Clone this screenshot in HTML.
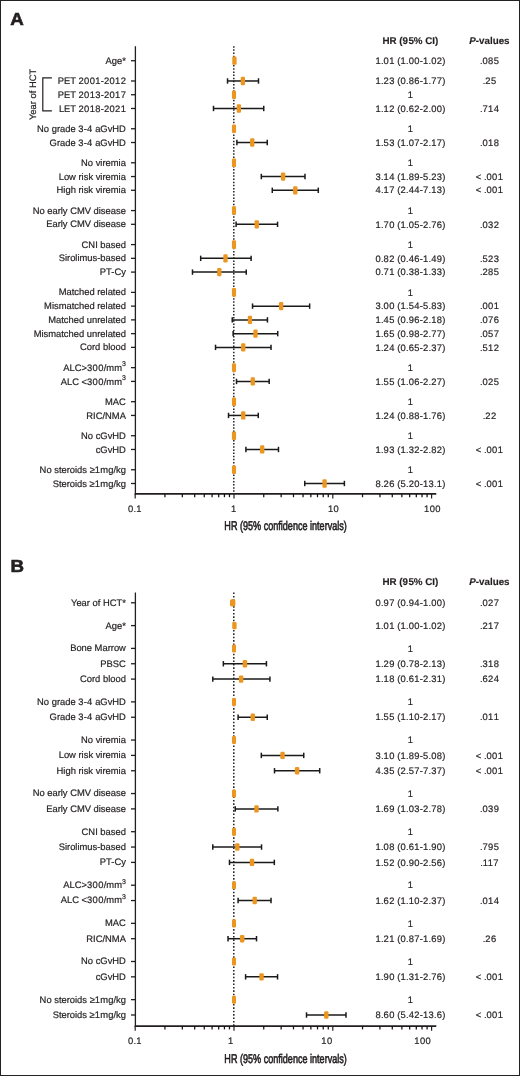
<!DOCTYPE html>
<html><head><meta charset="utf-8"><title>Forest plot</title>
<style>
html,body{margin:0;padding:0;background:#fff;}
#wrap{position:relative;width:520px;height:1076px;box-sizing:border-box;border:1px solid #222;overflow:hidden;background:#fff;}
svg{position:absolute;left:-1px;top:-1px;will-change:transform;}
text{font-family:"Liberation Sans", sans-serif;fill:#231f20;text-rendering:geometricPrecision;}
.lab{font-size:9.4px;stroke:#231f20;stroke-width:0.2px;}
.val{font-size:9.4px;stroke:#231f20;stroke-width:0.2px;}
.hdr{font-size:9.8px;font-weight:bold;stroke:#231f20;stroke-width:0.15px;}
.big{font-size:17.5px;font-weight:bold;stroke:#231f20;stroke-width:0.6px;}
.title{font-size:12.6px;stroke:#231f20;stroke-width:0.6px;}
</style></head>
<body><div id="wrap">
<svg width="520" height="1076" viewBox="0 0 520 1076">
<text transform="translate(10.2 25.0) scale(1.07 1)" class="big">A</text>
<text x="410.4" y="43.9" text-anchor="middle" class="hdr">HR (<tspan letter-spacing="0.36">9</tspan>5% CI)</text>
<text x="489.4" y="43.9" text-anchor="middle" class="hdr"><tspan font-style="italic">P</tspan>-values</text>
<line x1="233.8" y1="46.2" x2="233.8" y2="493.9" stroke="#111" stroke-width="1.4" stroke-dasharray="1.5 1.65"/>
<line x1="135.4" y1="46.2" x2="135.4" y2="494.75" stroke="#231f20" stroke-width="1.3"/>
<line x1="134.75" y1="493.9" x2="436.3" y2="493.9" stroke="#231f20" stroke-width="1.7"/>
<line x1="135.2" y1="493.9" x2="135.2" y2="498.6" stroke="#231f20" stroke-width="1.2"/>
<line x1="164.94" y1="493.9" x2="164.94" y2="497.2" stroke="#111" stroke-width="1.25"/>
<line x1="182.34" y1="493.9" x2="182.34" y2="497.2" stroke="#111" stroke-width="1.25"/>
<line x1="194.68" y1="493.9" x2="194.68" y2="497.2" stroke="#111" stroke-width="1.25"/>
<line x1="204.26" y1="493.9" x2="204.26" y2="497.2" stroke="#111" stroke-width="1.25"/>
<line x1="212.08" y1="493.9" x2="212.08" y2="497.2" stroke="#111" stroke-width="1.25"/>
<line x1="218.7" y1="493.9" x2="218.7" y2="497.2" stroke="#111" stroke-width="1.25"/>
<line x1="224.43" y1="493.9" x2="224.43" y2="497.2" stroke="#111" stroke-width="1.25"/>
<line x1="229.48" y1="493.9" x2="229.48" y2="497.2" stroke="#111" stroke-width="1.25"/>
<line x1="234" y1="493.9" x2="234" y2="498.6" stroke="#231f20" stroke-width="1.2"/>
<line x1="263.74" y1="493.9" x2="263.74" y2="497.2" stroke="#111" stroke-width="1.25"/>
<line x1="281.14" y1="493.9" x2="281.14" y2="497.2" stroke="#111" stroke-width="1.25"/>
<line x1="293.48" y1="493.9" x2="293.48" y2="497.2" stroke="#111" stroke-width="1.25"/>
<line x1="303.06" y1="493.9" x2="303.06" y2="497.2" stroke="#111" stroke-width="1.25"/>
<line x1="310.88" y1="493.9" x2="310.88" y2="497.2" stroke="#111" stroke-width="1.25"/>
<line x1="317.5" y1="493.9" x2="317.5" y2="497.2" stroke="#111" stroke-width="1.25"/>
<line x1="323.23" y1="493.9" x2="323.23" y2="497.2" stroke="#111" stroke-width="1.25"/>
<line x1="328.28" y1="493.9" x2="328.28" y2="497.2" stroke="#111" stroke-width="1.25"/>
<line x1="332.8" y1="493.9" x2="332.8" y2="498.6" stroke="#231f20" stroke-width="1.2"/>
<line x1="362.54" y1="493.9" x2="362.54" y2="497.2" stroke="#111" stroke-width="1.25"/>
<line x1="379.94" y1="493.9" x2="379.94" y2="497.2" stroke="#111" stroke-width="1.25"/>
<line x1="392.28" y1="493.9" x2="392.28" y2="497.2" stroke="#111" stroke-width="1.25"/>
<line x1="401.86" y1="493.9" x2="401.86" y2="497.2" stroke="#111" stroke-width="1.25"/>
<line x1="409.68" y1="493.9" x2="409.68" y2="497.2" stroke="#111" stroke-width="1.25"/>
<line x1="416.3" y1="493.9" x2="416.3" y2="497.2" stroke="#111" stroke-width="1.25"/>
<line x1="422.03" y1="493.9" x2="422.03" y2="497.2" stroke="#111" stroke-width="1.25"/>
<line x1="427.08" y1="493.9" x2="427.08" y2="497.2" stroke="#111" stroke-width="1.25"/>
<line x1="431.6" y1="493.9" x2="431.6" y2="498.6" stroke="#231f20" stroke-width="1.2"/>
<text x="134.7" y="511.8" text-anchor="middle" class="val"><tspan letter-spacing="0.36">0</tspan>.1</text>
<text x="233.5" y="511.8" text-anchor="middle" class="val">1</text>
<text x="333.4" y="511.8" text-anchor="middle" class="val"><tspan letter-spacing="0.36">1</tspan>0</text>
<text x="432.3" y="511.8" text-anchor="middle" class="val"><tspan letter-spacing="0.36">10</tspan>0</text>
<text transform="translate(285.6 529.8) scale(0.72 1)" text-anchor="middle" class="title">HR (95% confidence intervals)</text>
<line x1="131" y1="60.7" x2="135.4" y2="60.7" stroke="#231f20" stroke-width="1.3"/>
<text x="125.9" y="63.8" text-anchor="end" class="lab">Age*</text>
<text x="410.4" y="63.9" text-anchor="middle" class="val"><tspan letter-spacing="0.36">1</tspan>.<tspan letter-spacing="0.36">01</tspan> (<tspan letter-spacing="0.36">1</tspan>.<tspan letter-spacing="0.36">00</tspan>-<tspan letter-spacing="0.36">1</tspan>.<tspan letter-spacing="0.36">02</tspan>)</text>
<text x="489.4" y="63.9" text-anchor="middle" class="val">.<tspan letter-spacing="0.36">08</tspan>5</text>
<line x1="234" y1="60.7" x2="234.85" y2="60.7" stroke="#1a1a1a" stroke-width="1.5"/>
<line x1="234" y1="58" x2="234" y2="63.4" stroke="#1a1a1a" stroke-width="1.5"/>
<line x1="234.85" y1="58" x2="234.85" y2="63.4" stroke="#1a1a1a" stroke-width="1.5"/>
<rect x="232.28" y="56.55" width="4.3" height="8.3" rx="1.2" fill="#EC9620"/>
<line x1="131" y1="80.98" x2="135.4" y2="80.98" stroke="#231f20" stroke-width="1.3"/>
<text x="125.9" y="84.08" text-anchor="end" class="lab">PET <tspan letter-spacing="0.36">2001</tspan>-<tspan letter-spacing="0.36">201</tspan>2</text>
<text x="410.4" y="84.18" text-anchor="middle" class="val"><tspan letter-spacing="0.36">1</tspan>.<tspan letter-spacing="0.36">23</tspan> (<tspan letter-spacing="0.36">0</tspan>.<tspan letter-spacing="0.36">86</tspan>-<tspan letter-spacing="0.36">1</tspan>.<tspan letter-spacing="0.36">77</tspan>)</text>
<text x="489.4" y="84.18" text-anchor="middle" class="val">.<tspan letter-spacing="0.36">2</tspan>5</text>
<line x1="227.53" y1="80.98" x2="258.5" y2="80.98" stroke="#1a1a1a" stroke-width="1.5"/>
<line x1="227.53" y1="78.28" x2="227.53" y2="83.68" stroke="#1a1a1a" stroke-width="1.5"/>
<line x1="258.5" y1="78.28" x2="258.5" y2="83.68" stroke="#1a1a1a" stroke-width="1.5"/>
<rect x="240.73" y="76.83" width="4.3" height="8.3" rx="1.2" fill="#EC9620"/>
<line x1="131" y1="94.73" x2="135.4" y2="94.73" stroke="#231f20" stroke-width="1.3"/>
<text x="125.9" y="97.83" text-anchor="end" class="lab">PET <tspan letter-spacing="0.36">2013</tspan>-<tspan letter-spacing="0.36">201</tspan>7</text>
<text x="410.4" y="97.93" text-anchor="middle" class="val">1</text>
<rect x="231.95" y="90.43" width="4.1" height="8.6" rx="1.2" fill="#EC9620"/>
<line x1="131" y1="108.48" x2="135.4" y2="108.48" stroke="#231f20" stroke-width="1.3"/>
<text x="125.9" y="111.58" text-anchor="end" class="lab">LET <tspan letter-spacing="0.36">2018</tspan>-<tspan letter-spacing="0.36">202</tspan>1</text>
<text x="410.4" y="111.68" text-anchor="middle" class="val"><tspan letter-spacing="0.36">1</tspan>.<tspan letter-spacing="0.36">12</tspan> (<tspan letter-spacing="0.36">0</tspan>.<tspan letter-spacing="0.36">62</tspan>-<tspan letter-spacing="0.36">2</tspan>.<tspan letter-spacing="0.36">00</tspan>)</text>
<text x="489.4" y="111.68" text-anchor="middle" class="val">.<tspan letter-spacing="0.36">71</tspan>4</text>
<line x1="213.49" y1="108.48" x2="263.74" y2="108.48" stroke="#1a1a1a" stroke-width="1.5"/>
<line x1="213.49" y1="105.78" x2="213.49" y2="111.18" stroke="#1a1a1a" stroke-width="1.5"/>
<line x1="263.74" y1="105.78" x2="263.74" y2="111.18" stroke="#1a1a1a" stroke-width="1.5"/>
<rect x="236.71" y="104.33" width="4.3" height="8.3" rx="1.2" fill="#EC9620"/>
<line x1="131" y1="128.76" x2="135.4" y2="128.76" stroke="#231f20" stroke-width="1.3"/>
<text x="125.9" y="131.86" text-anchor="end" class="lab">No grade <tspan letter-spacing="0.36">3</tspan>-<tspan letter-spacing="0.36">4</tspan> aGvHD</text>
<text x="410.4" y="131.96" text-anchor="middle" class="val">1</text>
<rect x="231.95" y="124.46" width="4.1" height="8.6" rx="1.2" fill="#EC9620"/>
<line x1="131" y1="142.51" x2="135.4" y2="142.51" stroke="#231f20" stroke-width="1.3"/>
<text x="125.9" y="145.61" text-anchor="end" class="lab">Grade <tspan letter-spacing="0.36">3</tspan>-<tspan letter-spacing="0.36">4</tspan> aGvHD</text>
<text x="410.4" y="145.71" text-anchor="middle" class="val"><tspan letter-spacing="0.36">1</tspan>.<tspan letter-spacing="0.36">53</tspan> (<tspan letter-spacing="0.36">1</tspan>.<tspan letter-spacing="0.36">07</tspan>-<tspan letter-spacing="0.36">2</tspan>.<tspan letter-spacing="0.36">17</tspan>)</text>
<text x="489.4" y="145.71" text-anchor="middle" class="val">.<tspan letter-spacing="0.36">01</tspan>8</text>
<line x1="236.9" y1="142.51" x2="267.24" y2="142.51" stroke="#1a1a1a" stroke-width="1.5"/>
<line x1="236.9" y1="139.81" x2="236.9" y2="145.21" stroke="#1a1a1a" stroke-width="1.5"/>
<line x1="267.24" y1="139.81" x2="267.24" y2="145.21" stroke="#1a1a1a" stroke-width="1.5"/>
<rect x="250.1" y="138.36" width="4.3" height="8.3" rx="1.2" fill="#EC9620"/>
<line x1="131" y1="162.79" x2="135.4" y2="162.79" stroke="#231f20" stroke-width="1.3"/>
<text x="125.9" y="165.89" text-anchor="end" class="lab">No viremia</text>
<text x="410.4" y="165.99" text-anchor="middle" class="val">1</text>
<rect x="231.95" y="158.49" width="4.1" height="8.6" rx="1.2" fill="#EC9620"/>
<line x1="131" y1="176.54" x2="135.4" y2="176.54" stroke="#231f20" stroke-width="1.3"/>
<text x="125.9" y="179.64" text-anchor="end" class="lab">Low risk viremia</text>
<text x="410.4" y="179.74" text-anchor="middle" class="val"><tspan letter-spacing="0.36">3</tspan>.<tspan letter-spacing="0.36">14</tspan> (<tspan letter-spacing="0.36">1</tspan>.<tspan letter-spacing="0.36">89</tspan>-<tspan letter-spacing="0.36">5</tspan>.<tspan letter-spacing="0.36">23</tspan>)</text>
<text x="489.4" y="179.74" text-anchor="middle" class="val">&lt; .<tspan letter-spacing="0.36">00</tspan>1</text>
<line x1="261.31" y1="176.54" x2="304.99" y2="176.54" stroke="#1a1a1a" stroke-width="1.5"/>
<line x1="261.31" y1="173.84" x2="261.31" y2="179.24" stroke="#1a1a1a" stroke-width="1.5"/>
<line x1="304.99" y1="173.84" x2="304.99" y2="179.24" stroke="#1a1a1a" stroke-width="1.5"/>
<rect x="280.95" y="172.39" width="4.3" height="8.3" rx="1.2" fill="#EC9620"/>
<line x1="131" y1="190.29" x2="135.4" y2="190.29" stroke="#231f20" stroke-width="1.3"/>
<text x="125.9" y="193.39" text-anchor="end" class="lab">High risk viremia</text>
<text x="410.4" y="193.49" text-anchor="middle" class="val"><tspan letter-spacing="0.36">4</tspan>.<tspan letter-spacing="0.36">17</tspan> (<tspan letter-spacing="0.36">2</tspan>.<tspan letter-spacing="0.36">44</tspan>-<tspan letter-spacing="0.36">7</tspan>.<tspan letter-spacing="0.36">13</tspan>)</text>
<text x="489.4" y="193.49" text-anchor="middle" class="val">&lt; .<tspan letter-spacing="0.36">00</tspan>1</text>
<line x1="272.27" y1="190.29" x2="318.29" y2="190.29" stroke="#1a1a1a" stroke-width="1.5"/>
<line x1="272.27" y1="187.59" x2="272.27" y2="192.99" stroke="#1a1a1a" stroke-width="1.5"/>
<line x1="318.29" y1="187.59" x2="318.29" y2="192.99" stroke="#1a1a1a" stroke-width="1.5"/>
<rect x="293.12" y="186.14" width="4.3" height="8.3" rx="1.2" fill="#EC9620"/>
<line x1="131" y1="210.57" x2="135.4" y2="210.57" stroke="#231f20" stroke-width="1.3"/>
<text x="125.9" y="213.67" text-anchor="end" class="lab">No early CMV disease</text>
<text x="410.4" y="213.77" text-anchor="middle" class="val">1</text>
<rect x="231.95" y="206.27" width="4.1" height="8.6" rx="1.2" fill="#EC9620"/>
<line x1="131" y1="224.32" x2="135.4" y2="224.32" stroke="#231f20" stroke-width="1.3"/>
<text x="125.9" y="227.42" text-anchor="end" class="lab">Early CMV disease</text>
<text x="410.4" y="227.52" text-anchor="middle" class="val"><tspan letter-spacing="0.36">1</tspan>.<tspan letter-spacing="0.36">70</tspan> (<tspan letter-spacing="0.36">1</tspan>.<tspan letter-spacing="0.36">05</tspan>-<tspan letter-spacing="0.36">2</tspan>.<tspan letter-spacing="0.36">76</tspan>)</text>
<text x="489.4" y="227.52" text-anchor="middle" class="val">.<tspan letter-spacing="0.36">03</tspan>2</text>
<line x1="236.09" y1="224.32" x2="277.56" y2="224.32" stroke="#1a1a1a" stroke-width="1.5"/>
<line x1="236.09" y1="221.62" x2="236.09" y2="227.02" stroke="#1a1a1a" stroke-width="1.5"/>
<line x1="277.56" y1="221.62" x2="277.56" y2="227.02" stroke="#1a1a1a" stroke-width="1.5"/>
<rect x="254.62" y="220.17" width="4.3" height="8.3" rx="1.2" fill="#EC9620"/>
<line x1="131" y1="244.6" x2="135.4" y2="244.6" stroke="#231f20" stroke-width="1.3"/>
<text x="125.9" y="247.7" text-anchor="end" class="lab">CNI based</text>
<text x="410.4" y="247.8" text-anchor="middle" class="val">1</text>
<rect x="231.95" y="240.3" width="4.1" height="8.6" rx="1.2" fill="#EC9620"/>
<line x1="131" y1="258.35" x2="135.4" y2="258.35" stroke="#231f20" stroke-width="1.3"/>
<text x="125.9" y="261.45" text-anchor="end" class="lab">Sirolimus-based</text>
<text x="410.4" y="261.55" text-anchor="middle" class="val"><tspan letter-spacing="0.36">0</tspan>.<tspan letter-spacing="0.36">82</tspan> (<tspan letter-spacing="0.36">0</tspan>.<tspan letter-spacing="0.36">46</tspan>-<tspan letter-spacing="0.36">1</tspan>.<tspan letter-spacing="0.36">49</tspan>)</text>
<text x="489.4" y="261.55" text-anchor="middle" class="val">.<tspan letter-spacing="0.36">52</tspan>3</text>
<line x1="200.68" y1="258.35" x2="251.11" y2="258.35" stroke="#1a1a1a" stroke-width="1.5"/>
<line x1="200.68" y1="255.65" x2="200.68" y2="261.05" stroke="#1a1a1a" stroke-width="1.5"/>
<line x1="251.11" y1="255.65" x2="251.11" y2="261.05" stroke="#1a1a1a" stroke-width="1.5"/>
<rect x="223.33" y="254.2" width="4.3" height="8.3" rx="1.2" fill="#EC9620"/>
<line x1="131" y1="272.1" x2="135.4" y2="272.1" stroke="#231f20" stroke-width="1.3"/>
<text x="125.9" y="275.2" text-anchor="end" class="lab">PT-Cy</text>
<text x="410.4" y="275.3" text-anchor="middle" class="val"><tspan letter-spacing="0.36">0</tspan>.<tspan letter-spacing="0.36">71</tspan> (<tspan letter-spacing="0.36">0</tspan>.<tspan letter-spacing="0.36">38</tspan>-<tspan letter-spacing="0.36">1</tspan>.<tspan letter-spacing="0.36">33</tspan>)</text>
<text x="489.4" y="275.3" text-anchor="middle" class="val">.<tspan letter-spacing="0.36">28</tspan>5</text>
<line x1="192.48" y1="272.1" x2="246.24" y2="272.1" stroke="#1a1a1a" stroke-width="1.5"/>
<line x1="192.48" y1="269.4" x2="192.48" y2="274.8" stroke="#1a1a1a" stroke-width="1.5"/>
<line x1="246.24" y1="269.4" x2="246.24" y2="274.8" stroke="#1a1a1a" stroke-width="1.5"/>
<rect x="217.15" y="267.95" width="4.3" height="8.3" rx="1.2" fill="#EC9620"/>
<line x1="131" y1="292.38" x2="135.4" y2="292.38" stroke="#231f20" stroke-width="1.3"/>
<text x="125.9" y="295.48" text-anchor="end" class="lab">Matched related</text>
<text x="410.4" y="295.58" text-anchor="middle" class="val">1</text>
<rect x="231.95" y="288.08" width="4.1" height="8.6" rx="1.2" fill="#EC9620"/>
<line x1="131" y1="306.13" x2="135.4" y2="306.13" stroke="#231f20" stroke-width="1.3"/>
<text x="125.9" y="309.23" text-anchor="end" class="lab">Mismatched related</text>
<text x="410.4" y="309.33" text-anchor="middle" class="val"><tspan letter-spacing="0.36">3</tspan>.<tspan letter-spacing="0.36">00</tspan> (<tspan letter-spacing="0.36">1</tspan>.<tspan letter-spacing="0.36">54</tspan>-<tspan letter-spacing="0.36">5</tspan>.<tspan letter-spacing="0.36">83</tspan>)</text>
<text x="489.4" y="309.33" text-anchor="middle" class="val">.<tspan letter-spacing="0.36">00</tspan>1</text>
<line x1="252.53" y1="306.13" x2="309.65" y2="306.13" stroke="#1a1a1a" stroke-width="1.5"/>
<line x1="252.53" y1="303.43" x2="252.53" y2="308.83" stroke="#1a1a1a" stroke-width="1.5"/>
<line x1="309.65" y1="303.43" x2="309.65" y2="308.83" stroke="#1a1a1a" stroke-width="1.5"/>
<rect x="278.99" y="301.98" width="4.3" height="8.3" rx="1.2" fill="#EC9620"/>
<line x1="131" y1="319.88" x2="135.4" y2="319.88" stroke="#231f20" stroke-width="1.3"/>
<text x="125.9" y="322.98" text-anchor="end" class="lab">Matched unrelated</text>
<text x="410.4" y="323.08" text-anchor="middle" class="val"><tspan letter-spacing="0.36">1</tspan>.<tspan letter-spacing="0.36">45</tspan> (<tspan letter-spacing="0.36">0</tspan>.<tspan letter-spacing="0.36">96</tspan>-<tspan letter-spacing="0.36">2</tspan>.<tspan letter-spacing="0.36">18</tspan>)</text>
<text x="489.4" y="323.08" text-anchor="middle" class="val">.<tspan letter-spacing="0.36">07</tspan>6</text>
<line x1="232.25" y1="319.88" x2="267.44" y2="319.88" stroke="#1a1a1a" stroke-width="1.5"/>
<line x1="232.25" y1="317.18" x2="232.25" y2="322.58" stroke="#1a1a1a" stroke-width="1.5"/>
<line x1="267.44" y1="317.18" x2="267.44" y2="322.58" stroke="#1a1a1a" stroke-width="1.5"/>
<rect x="247.79" y="315.73" width="4.3" height="8.3" rx="1.2" fill="#EC9620"/>
<line x1="131" y1="333.63" x2="135.4" y2="333.63" stroke="#231f20" stroke-width="1.3"/>
<text x="125.9" y="336.73" text-anchor="end" class="lab">Mismatched unrelated</text>
<text x="410.4" y="336.83" text-anchor="middle" class="val"><tspan letter-spacing="0.36">1</tspan>.<tspan letter-spacing="0.36">65</tspan> (<tspan letter-spacing="0.36">0</tspan>.<tspan letter-spacing="0.36">98</tspan>-<tspan letter-spacing="0.36">2</tspan>.<tspan letter-spacing="0.36">77</tspan>)</text>
<text x="489.4" y="336.83" text-anchor="middle" class="val">.<tspan letter-spacing="0.36">05</tspan>7</text>
<line x1="233.13" y1="333.63" x2="277.72" y2="333.63" stroke="#1a1a1a" stroke-width="1.5"/>
<line x1="233.13" y1="330.93" x2="233.13" y2="336.33" stroke="#1a1a1a" stroke-width="1.5"/>
<line x1="277.72" y1="330.93" x2="277.72" y2="336.33" stroke="#1a1a1a" stroke-width="1.5"/>
<rect x="253.34" y="329.48" width="4.3" height="8.3" rx="1.2" fill="#EC9620"/>
<line x1="131" y1="347.38" x2="135.4" y2="347.38" stroke="#231f20" stroke-width="1.3"/>
<text x="125.9" y="350.48" text-anchor="end" class="lab">Cord blood</text>
<text x="410.4" y="350.58" text-anchor="middle" class="val"><tspan letter-spacing="0.36">1</tspan>.<tspan letter-spacing="0.36">24</tspan> (<tspan letter-spacing="0.36">0</tspan>.<tspan letter-spacing="0.36">65</tspan>-<tspan letter-spacing="0.36">2</tspan>.<tspan letter-spacing="0.36">37</tspan>)</text>
<text x="489.4" y="350.58" text-anchor="middle" class="val">.<tspan letter-spacing="0.36">51</tspan>2</text>
<line x1="215.52" y1="347.38" x2="271.03" y2="347.38" stroke="#1a1a1a" stroke-width="1.5"/>
<line x1="215.52" y1="344.68" x2="215.52" y2="350.08" stroke="#1a1a1a" stroke-width="1.5"/>
<line x1="271.03" y1="344.68" x2="271.03" y2="350.08" stroke="#1a1a1a" stroke-width="1.5"/>
<rect x="241.08" y="343.23" width="4.3" height="8.3" rx="1.2" fill="#EC9620"/>
<line x1="131" y1="367.66" x2="135.4" y2="367.66" stroke="#231f20" stroke-width="1.3"/>
<text x="125.9" y="370.76" text-anchor="end" class="lab">ALC&gt;<tspan letter-spacing="0.36">300</tspan>/mm<tspan dy="-4.3" font-size="7">3</tspan></text>
<text x="410.4" y="370.86" text-anchor="middle" class="val">1</text>
<rect x="231.95" y="363.36" width="4.1" height="8.6" rx="1.2" fill="#EC9620"/>
<line x1="131" y1="381.41" x2="135.4" y2="381.41" stroke="#231f20" stroke-width="1.3"/>
<text x="125.9" y="384.51" text-anchor="end" class="lab">ALC &lt;<tspan letter-spacing="0.36">300</tspan>/mm<tspan dy="-4.3" font-size="7">3</tspan></text>
<text x="410.4" y="384.61" text-anchor="middle" class="val"><tspan letter-spacing="0.36">1</tspan>.<tspan letter-spacing="0.36">55</tspan> (<tspan letter-spacing="0.36">1</tspan>.<tspan letter-spacing="0.36">06</tspan>-<tspan letter-spacing="0.36">2</tspan>.<tspan letter-spacing="0.36">27</tspan>)</text>
<text x="489.4" y="384.61" text-anchor="middle" class="val">.<tspan letter-spacing="0.36">02</tspan>5</text>
<line x1="236.5" y1="381.41" x2="269.18" y2="381.41" stroke="#1a1a1a" stroke-width="1.5"/>
<line x1="236.5" y1="378.71" x2="236.5" y2="384.11" stroke="#1a1a1a" stroke-width="1.5"/>
<line x1="269.18" y1="378.71" x2="269.18" y2="384.11" stroke="#1a1a1a" stroke-width="1.5"/>
<rect x="250.65" y="377.26" width="4.3" height="8.3" rx="1.2" fill="#EC9620"/>
<line x1="131" y1="401.69" x2="135.4" y2="401.69" stroke="#231f20" stroke-width="1.3"/>
<text x="125.9" y="404.79" text-anchor="end" class="lab">MAC</text>
<text x="410.4" y="404.89" text-anchor="middle" class="val">1</text>
<rect x="231.95" y="397.39" width="4.1" height="8.6" rx="1.2" fill="#EC9620"/>
<line x1="131" y1="415.44" x2="135.4" y2="415.44" stroke="#231f20" stroke-width="1.3"/>
<text x="125.9" y="418.54" text-anchor="end" class="lab">RIC/NMA</text>
<text x="410.4" y="418.64" text-anchor="middle" class="val"><tspan letter-spacing="0.36">1</tspan>.<tspan letter-spacing="0.36">24</tspan> (<tspan letter-spacing="0.36">0</tspan>.<tspan letter-spacing="0.36">88</tspan>-<tspan letter-spacing="0.36">1</tspan>.<tspan letter-spacing="0.36">76</tspan>)</text>
<text x="489.4" y="418.64" text-anchor="middle" class="val">.<tspan letter-spacing="0.36">2</tspan>2</text>
<line x1="228.51" y1="415.44" x2="258.26" y2="415.44" stroke="#1a1a1a" stroke-width="1.5"/>
<line x1="228.51" y1="412.74" x2="228.51" y2="418.14" stroke="#1a1a1a" stroke-width="1.5"/>
<line x1="258.26" y1="412.74" x2="258.26" y2="418.14" stroke="#1a1a1a" stroke-width="1.5"/>
<rect x="241.08" y="411.29" width="4.3" height="8.3" rx="1.2" fill="#EC9620"/>
<line x1="131" y1="435.72" x2="135.4" y2="435.72" stroke="#231f20" stroke-width="1.3"/>
<text x="125.9" y="438.82" text-anchor="end" class="lab">No cGvHD</text>
<text x="410.4" y="438.92" text-anchor="middle" class="val">1</text>
<rect x="231.95" y="431.42" width="4.1" height="8.6" rx="1.2" fill="#EC9620"/>
<line x1="131" y1="449.47" x2="135.4" y2="449.47" stroke="#231f20" stroke-width="1.3"/>
<text x="125.9" y="452.57" text-anchor="end" class="lab">cGvHD</text>
<text x="410.4" y="452.67" text-anchor="middle" class="val"><tspan letter-spacing="0.36">1</tspan>.<tspan letter-spacing="0.36">93</tspan> (<tspan letter-spacing="0.36">1</tspan>.<tspan letter-spacing="0.36">32</tspan>-<tspan letter-spacing="0.36">2</tspan>.<tspan letter-spacing="0.36">82</tspan>)</text>
<text x="489.4" y="452.67" text-anchor="middle" class="val">&lt; .<tspan letter-spacing="0.36">00</tspan>1</text>
<line x1="245.91" y1="449.47" x2="278.48" y2="449.47" stroke="#1a1a1a" stroke-width="1.5"/>
<line x1="245.91" y1="446.77" x2="245.91" y2="452.17" stroke="#1a1a1a" stroke-width="1.5"/>
<line x1="278.48" y1="446.77" x2="278.48" y2="452.17" stroke="#1a1a1a" stroke-width="1.5"/>
<rect x="260.06" y="445.32" width="4.3" height="8.3" rx="1.2" fill="#EC9620"/>
<line x1="131" y1="469.75" x2="135.4" y2="469.75" stroke="#231f20" stroke-width="1.3"/>
<text x="125.9" y="472.85" text-anchor="end" class="lab">No steroids ≥<tspan letter-spacing="0.36">1</tspan>mg/kg</text>
<text x="410.4" y="472.95" text-anchor="middle" class="val">1</text>
<rect x="231.95" y="465.45" width="4.1" height="8.6" rx="1.2" fill="#EC9620"/>
<line x1="131" y1="483.5" x2="135.4" y2="483.5" stroke="#231f20" stroke-width="1.3"/>
<text x="125.9" y="486.6" text-anchor="end" class="lab">Steroids ≥<tspan letter-spacing="0.36">1</tspan>mg/kg</text>
<text x="410.4" y="486.7" text-anchor="middle" class="val"><tspan letter-spacing="0.36">8</tspan>.<tspan letter-spacing="0.36">26</tspan> (<tspan letter-spacing="0.36">5</tspan>.<tspan letter-spacing="0.36">20</tspan>-<tspan letter-spacing="0.36">13</tspan>.<tspan letter-spacing="0.36">1</tspan>)</text>
<text x="489.4" y="486.7" text-anchor="middle" class="val">&lt; .<tspan letter-spacing="0.36">00</tspan>1</text>
<line x1="304.74" y1="483.5" x2="344.39" y2="483.5" stroke="#1a1a1a" stroke-width="1.5"/>
<line x1="304.74" y1="480.8" x2="304.74" y2="486.2" stroke="#1a1a1a" stroke-width="1.5"/>
<line x1="344.39" y1="480.8" x2="344.39" y2="486.2" stroke="#1a1a1a" stroke-width="1.5"/>
<rect x="322.45" y="479.35" width="4.3" height="8.3" rx="1.2" fill="#EC9620"/>
<text transform="translate(10.6 572.0) scale(1.07 1)" class="big">B</text>
<text x="410.4" y="584.9" text-anchor="middle" class="hdr">HR (<tspan letter-spacing="0.36">9</tspan>5% CI)</text>
<text x="489.4" y="584.9" text-anchor="middle" class="hdr"><tspan font-style="italic">P</tspan>-values</text>
<line x1="233.8" y1="592.5" x2="233.8" y2="1026.1" stroke="#111" stroke-width="1.4" stroke-dasharray="1.6 1.8"/>
<line x1="135.4" y1="592.5" x2="135.4" y2="1026.9499999999998" stroke="#231f20" stroke-width="1.3"/>
<line x1="134.75" y1="1026.1" x2="436.3" y2="1026.1" stroke="#231f20" stroke-width="1.7"/>
<line x1="135.2" y1="1026.1" x2="135.2" y2="1030.8" stroke="#231f20" stroke-width="1.2"/>
<line x1="164.94" y1="1026.1" x2="164.94" y2="1029.4" stroke="#111" stroke-width="1.25"/>
<line x1="182.34" y1="1026.1" x2="182.34" y2="1029.4" stroke="#111" stroke-width="1.25"/>
<line x1="194.68" y1="1026.1" x2="194.68" y2="1029.4" stroke="#111" stroke-width="1.25"/>
<line x1="204.26" y1="1026.1" x2="204.26" y2="1029.4" stroke="#111" stroke-width="1.25"/>
<line x1="212.08" y1="1026.1" x2="212.08" y2="1029.4" stroke="#111" stroke-width="1.25"/>
<line x1="218.7" y1="1026.1" x2="218.7" y2="1029.4" stroke="#111" stroke-width="1.25"/>
<line x1="224.43" y1="1026.1" x2="224.43" y2="1029.4" stroke="#111" stroke-width="1.25"/>
<line x1="229.48" y1="1026.1" x2="229.48" y2="1029.4" stroke="#111" stroke-width="1.25"/>
<line x1="234" y1="1026.1" x2="234" y2="1030.8" stroke="#231f20" stroke-width="1.2"/>
<line x1="263.74" y1="1026.1" x2="263.74" y2="1029.4" stroke="#111" stroke-width="1.25"/>
<line x1="281.14" y1="1026.1" x2="281.14" y2="1029.4" stroke="#111" stroke-width="1.25"/>
<line x1="293.48" y1="1026.1" x2="293.48" y2="1029.4" stroke="#111" stroke-width="1.25"/>
<line x1="303.06" y1="1026.1" x2="303.06" y2="1029.4" stroke="#111" stroke-width="1.25"/>
<line x1="310.88" y1="1026.1" x2="310.88" y2="1029.4" stroke="#111" stroke-width="1.25"/>
<line x1="317.5" y1="1026.1" x2="317.5" y2="1029.4" stroke="#111" stroke-width="1.25"/>
<line x1="323.23" y1="1026.1" x2="323.23" y2="1029.4" stroke="#111" stroke-width="1.25"/>
<line x1="328.28" y1="1026.1" x2="328.28" y2="1029.4" stroke="#111" stroke-width="1.25"/>
<line x1="332.8" y1="1026.1" x2="332.8" y2="1030.8" stroke="#231f20" stroke-width="1.2"/>
<line x1="362.54" y1="1026.1" x2="362.54" y2="1029.4" stroke="#111" stroke-width="1.25"/>
<line x1="379.94" y1="1026.1" x2="379.94" y2="1029.4" stroke="#111" stroke-width="1.25"/>
<line x1="392.28" y1="1026.1" x2="392.28" y2="1029.4" stroke="#111" stroke-width="1.25"/>
<line x1="401.86" y1="1026.1" x2="401.86" y2="1029.4" stroke="#111" stroke-width="1.25"/>
<line x1="409.68" y1="1026.1" x2="409.68" y2="1029.4" stroke="#111" stroke-width="1.25"/>
<line x1="416.3" y1="1026.1" x2="416.3" y2="1029.4" stroke="#111" stroke-width="1.25"/>
<line x1="422.03" y1="1026.1" x2="422.03" y2="1029.4" stroke="#111" stroke-width="1.25"/>
<line x1="427.08" y1="1026.1" x2="427.08" y2="1029.4" stroke="#111" stroke-width="1.25"/>
<line x1="431.6" y1="1026.1" x2="431.6" y2="1030.8" stroke="#231f20" stroke-width="1.2"/>
<text x="134.7" y="1043.7" text-anchor="middle" class="val"><tspan letter-spacing="0.36">0</tspan>.1</text>
<text x="230.7" y="1043.7" text-anchor="middle" class="val">1</text>
<text x="326.7" y="1043.7" text-anchor="middle" class="val"><tspan letter-spacing="0.36">1</tspan>0</text>
<text x="422.5" y="1043.7" text-anchor="middle" class="val"><tspan letter-spacing="0.36">10</tspan>0</text>
<text transform="translate(285.6 1063.0) scale(0.72 1)" text-anchor="middle" class="title">HR (95% confidence intervals)</text>
<line x1="131" y1="602.8" x2="135.4" y2="602.8" stroke="#231f20" stroke-width="1.3"/>
<text x="125.9" y="605.7" text-anchor="end" class="lab">Year of HCT*</text>
<text x="410.4" y="606" text-anchor="middle" class="val"><tspan letter-spacing="0.36">0</tspan>.<tspan letter-spacing="0.36">97</tspan> (<tspan letter-spacing="0.36">0</tspan>.<tspan letter-spacing="0.36">94</tspan>-<tspan letter-spacing="0.36">1</tspan>.<tspan letter-spacing="0.36">00</tspan>)</text>
<text x="489.4" y="606" text-anchor="middle" class="val">.<tspan letter-spacing="0.36">02</tspan>7</text>
<line x1="231.35" y1="602.8" x2="234" y2="602.8" stroke="#1a1a1a" stroke-width="1.5"/>
<line x1="231.35" y1="600.1" x2="231.35" y2="605.5" stroke="#1a1a1a" stroke-width="1.5"/>
<line x1="234" y1="600.1" x2="234" y2="605.5" stroke="#1a1a1a" stroke-width="1.5"/>
<rect x="229.99" y="599" width="5.4" height="7.6" rx="2.6" fill="#EC9620"/>
<line x1="131" y1="625.6" x2="135.4" y2="625.6" stroke="#231f20" stroke-width="1.3"/>
<text x="125.9" y="628.5" text-anchor="end" class="lab">Age*</text>
<text x="410.4" y="628.8" text-anchor="middle" class="val"><tspan letter-spacing="0.36">1</tspan>.<tspan letter-spacing="0.36">01</tspan> (<tspan letter-spacing="0.36">1</tspan>.<tspan letter-spacing="0.36">00</tspan>-<tspan letter-spacing="0.36">1</tspan>.<tspan letter-spacing="0.36">02</tspan>)</text>
<text x="489.4" y="628.8" text-anchor="middle" class="val">.<tspan letter-spacing="0.36">21</tspan>7</text>
<line x1="234" y1="625.6" x2="234.85" y2="625.6" stroke="#1a1a1a" stroke-width="1.5"/>
<line x1="234" y1="622.9" x2="234" y2="628.3" stroke="#1a1a1a" stroke-width="1.5"/>
<line x1="234.85" y1="622.9" x2="234.85" y2="628.3" stroke="#1a1a1a" stroke-width="1.5"/>
<rect x="232.23" y="621.9" width="4.4" height="7.4" rx="1.2" fill="#EC9620"/>
<line x1="131" y1="648.4" x2="135.4" y2="648.4" stroke="#231f20" stroke-width="1.3"/>
<text x="125.9" y="651.3" text-anchor="end" class="lab">Bone Marrow</text>
<text x="410.4" y="651.6" text-anchor="middle" class="val">1</text>
<rect x="232" y="644.4" width="4.0" height="8.0" rx="1.2" fill="#EC9620"/>
<line x1="131" y1="663.75" x2="135.4" y2="663.75" stroke="#231f20" stroke-width="1.3"/>
<text x="125.9" y="666.65" text-anchor="end" class="lab">PBSC</text>
<text x="410.4" y="666.95" text-anchor="middle" class="val"><tspan letter-spacing="0.36">1</tspan>.<tspan letter-spacing="0.36">29</tspan> (<tspan letter-spacing="0.36">0</tspan>.<tspan letter-spacing="0.36">78</tspan>-<tspan letter-spacing="0.36">2</tspan>.<tspan letter-spacing="0.36">13</tspan>)</text>
<text x="489.4" y="666.95" text-anchor="middle" class="val">.<tspan letter-spacing="0.36">31</tspan>8</text>
<line x1="223.34" y1="663.75" x2="266.44" y2="663.75" stroke="#1a1a1a" stroke-width="1.5"/>
<line x1="223.34" y1="661.05" x2="223.34" y2="666.45" stroke="#1a1a1a" stroke-width="1.5"/>
<line x1="266.44" y1="661.05" x2="266.44" y2="666.45" stroke="#1a1a1a" stroke-width="1.5"/>
<rect x="242.73" y="660.05" width="4.4" height="7.4" rx="1.2" fill="#EC9620"/>
<line x1="131" y1="679.1" x2="135.4" y2="679.1" stroke="#231f20" stroke-width="1.3"/>
<text x="125.9" y="682" text-anchor="end" class="lab">Cord blood</text>
<text x="410.4" y="682.3" text-anchor="middle" class="val"><tspan letter-spacing="0.36">1</tspan>.<tspan letter-spacing="0.36">18</tspan> (<tspan letter-spacing="0.36">0</tspan>.<tspan letter-spacing="0.36">61</tspan>-<tspan letter-spacing="0.36">2</tspan>.<tspan letter-spacing="0.36">31</tspan>)</text>
<text x="489.4" y="682.3" text-anchor="middle" class="val">.<tspan letter-spacing="0.36">62</tspan>4</text>
<line x1="212.79" y1="679.1" x2="269.92" y2="679.1" stroke="#1a1a1a" stroke-width="1.5"/>
<line x1="212.79" y1="676.4" x2="212.79" y2="681.8" stroke="#1a1a1a" stroke-width="1.5"/>
<line x1="269.92" y1="676.4" x2="269.92" y2="681.8" stroke="#1a1a1a" stroke-width="1.5"/>
<rect x="238.9" y="675.4" width="4.4" height="7.4" rx="1.2" fill="#EC9620"/>
<line x1="131" y1="701.9" x2="135.4" y2="701.9" stroke="#231f20" stroke-width="1.3"/>
<text x="125.9" y="704.8" text-anchor="end" class="lab">No grade <tspan letter-spacing="0.36">3</tspan>-<tspan letter-spacing="0.36">4</tspan> aGvHD</text>
<text x="410.4" y="705.1" text-anchor="middle" class="val">1</text>
<rect x="232" y="697.9" width="4.0" height="8.0" rx="1.2" fill="#EC9620"/>
<line x1="131" y1="717.25" x2="135.4" y2="717.25" stroke="#231f20" stroke-width="1.3"/>
<text x="125.9" y="720.15" text-anchor="end" class="lab">Grade <tspan letter-spacing="0.36">3</tspan>-<tspan letter-spacing="0.36">4</tspan> aGvHD</text>
<text x="410.4" y="720.45" text-anchor="middle" class="val"><tspan letter-spacing="0.36">1</tspan>.<tspan letter-spacing="0.36">55</tspan> (<tspan letter-spacing="0.36">1</tspan>.<tspan letter-spacing="0.36">10</tspan>-<tspan letter-spacing="0.36">2</tspan>.<tspan letter-spacing="0.36">17</tspan>)</text>
<text x="489.4" y="720.45" text-anchor="middle" class="val">.<tspan letter-spacing="0.36">01</tspan>1</text>
<line x1="238.09" y1="717.25" x2="267.24" y2="717.25" stroke="#1a1a1a" stroke-width="1.5"/>
<line x1="238.09" y1="714.55" x2="238.09" y2="719.95" stroke="#1a1a1a" stroke-width="1.5"/>
<line x1="267.24" y1="714.55" x2="267.24" y2="719.95" stroke="#1a1a1a" stroke-width="1.5"/>
<rect x="250.6" y="713.55" width="4.4" height="7.4" rx="1.2" fill="#EC9620"/>
<line x1="131" y1="740.05" x2="135.4" y2="740.05" stroke="#231f20" stroke-width="1.3"/>
<text x="125.9" y="742.95" text-anchor="end" class="lab">No viremia</text>
<text x="410.4" y="743.25" text-anchor="middle" class="val">1</text>
<rect x="232" y="736.05" width="4.0" height="8.0" rx="1.2" fill="#EC9620"/>
<line x1="131" y1="755.4" x2="135.4" y2="755.4" stroke="#231f20" stroke-width="1.3"/>
<text x="125.9" y="758.3" text-anchor="end" class="lab">Low risk viremia</text>
<text x="410.4" y="758.6" text-anchor="middle" class="val"><tspan letter-spacing="0.36">3</tspan>.<tspan letter-spacing="0.36">10</tspan> (<tspan letter-spacing="0.36">1</tspan>.<tspan letter-spacing="0.36">89</tspan>-<tspan letter-spacing="0.36">5</tspan>.<tspan letter-spacing="0.36">08</tspan>)</text>
<text x="489.4" y="758.6" text-anchor="middle" class="val">&lt; .<tspan letter-spacing="0.36">00</tspan>1</text>
<line x1="261.31" y1="755.4" x2="303.74" y2="755.4" stroke="#1a1a1a" stroke-width="1.5"/>
<line x1="261.31" y1="752.7" x2="261.31" y2="758.1" stroke="#1a1a1a" stroke-width="1.5"/>
<line x1="303.74" y1="752.7" x2="303.74" y2="758.1" stroke="#1a1a1a" stroke-width="1.5"/>
<rect x="280.35" y="751.7" width="4.4" height="7.4" rx="1.2" fill="#EC9620"/>
<line x1="131" y1="770.75" x2="135.4" y2="770.75" stroke="#231f20" stroke-width="1.3"/>
<text x="125.9" y="773.65" text-anchor="end" class="lab">High risk viremia</text>
<text x="410.4" y="773.95" text-anchor="middle" class="val"><tspan letter-spacing="0.36">4</tspan>.<tspan letter-spacing="0.36">35</tspan> (<tspan letter-spacing="0.36">2</tspan>.<tspan letter-spacing="0.36">57</tspan>-<tspan letter-spacing="0.36">7</tspan>.<tspan letter-spacing="0.36">37</tspan>)</text>
<text x="489.4" y="773.95" text-anchor="middle" class="val">&lt; .<tspan letter-spacing="0.36">00</tspan>1</text>
<line x1="274.5" y1="770.75" x2="319.71" y2="770.75" stroke="#1a1a1a" stroke-width="1.5"/>
<line x1="274.5" y1="768.05" x2="274.5" y2="773.45" stroke="#1a1a1a" stroke-width="1.5"/>
<line x1="319.71" y1="768.05" x2="319.71" y2="773.45" stroke="#1a1a1a" stroke-width="1.5"/>
<rect x="294.88" y="767.05" width="4.4" height="7.4" rx="1.2" fill="#EC9620"/>
<line x1="131" y1="793.55" x2="135.4" y2="793.55" stroke="#231f20" stroke-width="1.3"/>
<text x="125.9" y="796.45" text-anchor="end" class="lab">No early CMV disease</text>
<text x="410.4" y="796.75" text-anchor="middle" class="val">1</text>
<rect x="232" y="789.55" width="4.0" height="8.0" rx="1.2" fill="#EC9620"/>
<line x1="131" y1="808.9" x2="135.4" y2="808.9" stroke="#231f20" stroke-width="1.3"/>
<text x="125.9" y="811.8" text-anchor="end" class="lab">Early CMV disease</text>
<text x="410.4" y="812.1" text-anchor="middle" class="val"><tspan letter-spacing="0.36">1</tspan>.<tspan letter-spacing="0.36">69</tspan> (<tspan letter-spacing="0.36">1</tspan>.<tspan letter-spacing="0.36">03</tspan>-<tspan letter-spacing="0.36">2</tspan>.<tspan letter-spacing="0.36">78</tspan>)</text>
<text x="489.4" y="812.1" text-anchor="middle" class="val">.<tspan letter-spacing="0.36">03</tspan>9</text>
<line x1="235.27" y1="808.9" x2="277.87" y2="808.9" stroke="#1a1a1a" stroke-width="1.5"/>
<line x1="235.27" y1="806.2" x2="235.27" y2="811.6" stroke="#1a1a1a" stroke-width="1.5"/>
<line x1="277.87" y1="806.2" x2="277.87" y2="811.6" stroke="#1a1a1a" stroke-width="1.5"/>
<rect x="254.32" y="805.2" width="4.4" height="7.4" rx="1.2" fill="#EC9620"/>
<line x1="131" y1="831.7" x2="135.4" y2="831.7" stroke="#231f20" stroke-width="1.3"/>
<text x="125.9" y="834.6" text-anchor="end" class="lab">CNI based</text>
<text x="410.4" y="834.9" text-anchor="middle" class="val">1</text>
<rect x="232" y="827.7" width="4.0" height="8.0" rx="1.2" fill="#EC9620"/>
<line x1="131" y1="847.05" x2="135.4" y2="847.05" stroke="#231f20" stroke-width="1.3"/>
<text x="125.9" y="849.95" text-anchor="end" class="lab">Sirolimus-based</text>
<text x="410.4" y="850.25" text-anchor="middle" class="val"><tspan letter-spacing="0.36">1</tspan>.<tspan letter-spacing="0.36">08</tspan> (<tspan letter-spacing="0.36">0</tspan>.<tspan letter-spacing="0.36">61</tspan>-<tspan letter-spacing="0.36">1</tspan>.<tspan letter-spacing="0.36">90</tspan>)</text>
<text x="489.4" y="850.25" text-anchor="middle" class="val">.<tspan letter-spacing="0.36">79</tspan>5</text>
<line x1="212.79" y1="847.05" x2="261.54" y2="847.05" stroke="#1a1a1a" stroke-width="1.5"/>
<line x1="212.79" y1="844.35" x2="212.79" y2="849.75" stroke="#1a1a1a" stroke-width="1.5"/>
<line x1="261.54" y1="844.35" x2="261.54" y2="849.75" stroke="#1a1a1a" stroke-width="1.5"/>
<rect x="235.1" y="843.35" width="4.4" height="7.4" rx="1.2" fill="#EC9620"/>
<line x1="131" y1="862.4" x2="135.4" y2="862.4" stroke="#231f20" stroke-width="1.3"/>
<text x="125.9" y="865.3" text-anchor="end" class="lab">PT-Cy</text>
<text x="410.4" y="865.6" text-anchor="middle" class="val"><tspan letter-spacing="0.36">1</tspan>.<tspan letter-spacing="0.36">52</tspan> (<tspan letter-spacing="0.36">0</tspan>.<tspan letter-spacing="0.36">90</tspan>-<tspan letter-spacing="0.36">2</tspan>.<tspan letter-spacing="0.36">56</tspan>)</text>
<text x="489.4" y="865.6" text-anchor="middle" class="val">.<tspan letter-spacing="0.36">11</tspan>7</text>
<line x1="229.48" y1="862.4" x2="274.33" y2="862.4" stroke="#1a1a1a" stroke-width="1.5"/>
<line x1="229.48" y1="859.7" x2="229.48" y2="865.1" stroke="#1a1a1a" stroke-width="1.5"/>
<line x1="274.33" y1="859.7" x2="274.33" y2="865.1" stroke="#1a1a1a" stroke-width="1.5"/>
<rect x="249.77" y="858.7" width="4.4" height="7.4" rx="1.2" fill="#EC9620"/>
<line x1="131" y1="885.2" x2="135.4" y2="885.2" stroke="#231f20" stroke-width="1.3"/>
<text x="125.9" y="888.1" text-anchor="end" class="lab">ALC&gt;<tspan letter-spacing="0.36">300</tspan>/mm<tspan dy="-4.3" font-size="7">3</tspan></text>
<text x="410.4" y="888.4" text-anchor="middle" class="val">1</text>
<rect x="232" y="881.2" width="4.0" height="8.0" rx="1.2" fill="#EC9620"/>
<line x1="131" y1="900.55" x2="135.4" y2="900.55" stroke="#231f20" stroke-width="1.3"/>
<text x="125.9" y="903.45" text-anchor="end" class="lab">ALC &lt;<tspan letter-spacing="0.36">300</tspan>/mm<tspan dy="-4.3" font-size="7">3</tspan></text>
<text x="410.4" y="903.75" text-anchor="middle" class="val"><tspan letter-spacing="0.36">1</tspan>.<tspan letter-spacing="0.36">62</tspan> (<tspan letter-spacing="0.36">1</tspan>.<tspan letter-spacing="0.36">10</tspan>-<tspan letter-spacing="0.36">2</tspan>.<tspan letter-spacing="0.36">37</tspan>)</text>
<text x="489.4" y="903.75" text-anchor="middle" class="val">.<tspan letter-spacing="0.36">01</tspan>4</text>
<line x1="238.09" y1="900.55" x2="271.03" y2="900.55" stroke="#1a1a1a" stroke-width="1.5"/>
<line x1="238.09" y1="897.85" x2="238.09" y2="903.25" stroke="#1a1a1a" stroke-width="1.5"/>
<line x1="271.03" y1="897.85" x2="271.03" y2="903.25" stroke="#1a1a1a" stroke-width="1.5"/>
<rect x="252.5" y="896.85" width="4.4" height="7.4" rx="1.2" fill="#EC9620"/>
<line x1="131" y1="923.35" x2="135.4" y2="923.35" stroke="#231f20" stroke-width="1.3"/>
<text x="125.9" y="926.25" text-anchor="end" class="lab">MAC</text>
<text x="410.4" y="926.55" text-anchor="middle" class="val">1</text>
<rect x="232" y="919.35" width="4.0" height="8.0" rx="1.2" fill="#EC9620"/>
<line x1="131" y1="938.7" x2="135.4" y2="938.7" stroke="#231f20" stroke-width="1.3"/>
<text x="125.9" y="941.6" text-anchor="end" class="lab">RIC/NMA</text>
<text x="410.4" y="941.9" text-anchor="middle" class="val"><tspan letter-spacing="0.36">1</tspan>.<tspan letter-spacing="0.36">21</tspan> (<tspan letter-spacing="0.36">0</tspan>.<tspan letter-spacing="0.36">87</tspan>-<tspan letter-spacing="0.36">1</tspan>.<tspan letter-spacing="0.36">69</tspan>)</text>
<text x="489.4" y="941.9" text-anchor="middle" class="val">.<tspan letter-spacing="0.36">2</tspan>6</text>
<line x1="228.02" y1="938.7" x2="256.52" y2="938.7" stroke="#1a1a1a" stroke-width="1.5"/>
<line x1="228.02" y1="936" x2="228.02" y2="941.4" stroke="#1a1a1a" stroke-width="1.5"/>
<line x1="256.52" y1="936" x2="256.52" y2="941.4" stroke="#1a1a1a" stroke-width="1.5"/>
<rect x="239.98" y="935" width="4.4" height="7.4" rx="1.2" fill="#EC9620"/>
<line x1="131" y1="961.5" x2="135.4" y2="961.5" stroke="#231f20" stroke-width="1.3"/>
<text x="125.9" y="964.4" text-anchor="end" class="lab">No cGvHD</text>
<text x="410.4" y="964.7" text-anchor="middle" class="val">1</text>
<rect x="232" y="957.5" width="4.0" height="8.0" rx="1.2" fill="#EC9620"/>
<line x1="131" y1="976.85" x2="135.4" y2="976.85" stroke="#231f20" stroke-width="1.3"/>
<text x="125.9" y="979.75" text-anchor="end" class="lab">cGvHD</text>
<text x="410.4" y="980.05" text-anchor="middle" class="val"><tspan letter-spacing="0.36">1</tspan>.<tspan letter-spacing="0.36">90</tspan> (<tspan letter-spacing="0.36">1</tspan>.<tspan letter-spacing="0.36">31</tspan>-<tspan letter-spacing="0.36">2</tspan>.<tspan letter-spacing="0.36">76</tspan>)</text>
<text x="489.4" y="980.05" text-anchor="middle" class="val">&lt; .<tspan letter-spacing="0.36">00</tspan>1</text>
<line x1="245.59" y1="976.85" x2="277.56" y2="976.85" stroke="#1a1a1a" stroke-width="1.5"/>
<line x1="245.59" y1="974.15" x2="245.59" y2="979.55" stroke="#1a1a1a" stroke-width="1.5"/>
<line x1="277.56" y1="974.15" x2="277.56" y2="979.55" stroke="#1a1a1a" stroke-width="1.5"/>
<rect x="259.34" y="973.15" width="4.4" height="7.4" rx="1.2" fill="#EC9620"/>
<line x1="131" y1="999.65" x2="135.4" y2="999.65" stroke="#231f20" stroke-width="1.3"/>
<text x="125.9" y="1002.55" text-anchor="end" class="lab">No steroids ≥<tspan letter-spacing="0.36">1</tspan>mg/kg</text>
<text x="410.4" y="1002.85" text-anchor="middle" class="val">1</text>
<rect x="232" y="995.65" width="4.0" height="8.0" rx="1.2" fill="#EC9620"/>
<line x1="131" y1="1015" x2="135.4" y2="1015" stroke="#231f20" stroke-width="1.3"/>
<text x="125.9" y="1017.9" text-anchor="end" class="lab">Steroids ≥<tspan letter-spacing="0.36">1</tspan>mg/kg</text>
<text x="410.4" y="1018.2" text-anchor="middle" class="val"><tspan letter-spacing="0.36">8</tspan>.<tspan letter-spacing="0.36">60</tspan> (<tspan letter-spacing="0.36">5</tspan>.<tspan letter-spacing="0.36">42</tspan>-<tspan letter-spacing="0.36">13</tspan>.<tspan letter-spacing="0.36">6</tspan>)</text>
<text x="489.4" y="1018.2" text-anchor="middle" class="val">&lt; .<tspan letter-spacing="0.36">00</tspan>1</text>
<line x1="306.52" y1="1015" x2="345.99" y2="1015" stroke="#1a1a1a" stroke-width="1.5"/>
<line x1="306.52" y1="1012.3" x2="306.52" y2="1017.7" stroke="#1a1a1a" stroke-width="1.5"/>
<line x1="345.99" y1="1012.3" x2="345.99" y2="1017.7" stroke="#1a1a1a" stroke-width="1.5"/>
<rect x="324.13" y="1011.3" width="4.4" height="7.4" rx="1.2" fill="#EC9620"/>
<text transform="translate(35.8 94.4) rotate(-90)" text-anchor="middle" class="lab">Year of HCT</text>
<path d="M51.9 77.8 H42.8 V110.8 H51.9" fill="none" stroke="#231f20" stroke-width="1.2"/>
</svg>
</div></body></html>
